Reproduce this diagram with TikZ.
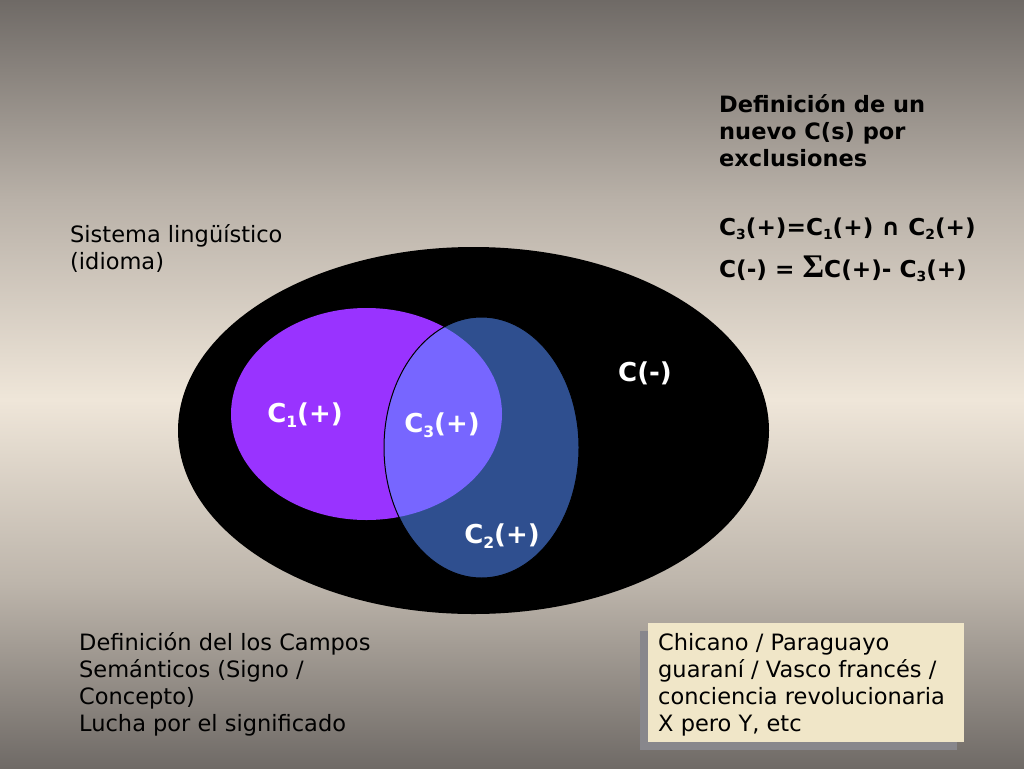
\documentclass[tikz,border=0pt]{standalone}
\usepackage{fontspec}
\setmainfont{DejaVu Sans}
\newfontfamily\sigmafont{Liberation Serif}
\definecolor{bgtop}{HTML}{6F6A66}
\definecolor{bgup}{HTML}{B9B1A8}
\definecolor{bglow}{HTML}{BDB5AB}
\definecolor{bgmid}{HTML}{EFE6D9}
\definecolor{cpurple}{HTML}{9933FF}
\definecolor{cblue}{HTML}{2F4F8F}
\definecolor{cover}{HTML}{7766FF}
\definecolor{boxcream}{HTML}{F0E6C8}
\definecolor{boxshadow}{HTML}{88878C}
\pgfdeclareverticalshading{bgshade}{100bp}{color(0bp)=(bgtop); color(25bp)=(bgtop); color(37bp)=(bglow); color(49bp)=(bgmid); color(62bp)=(bgup); color(75bp)=(bgtop); color(100bp)=(bgtop)}
\newcommand\sbs[1]{\raisebox{-0.2em}{\scalebox{0.6}{#1}}}
\begin{document}
\begin{tikzpicture}[x=1pt,y=-1pt,
  txt/.style={anchor=base west, inner sep=0pt, align=left, text=black, font=\fontsize{22.5}{27}\selectfont},
  btxt/.style={txt, font=\fontsize{22.5}{27}\selectfont\bfseries},
  eqtxt/.style={txt, font=\fontsize{23.2}{27}\selectfont\bfseries},
  lbl/.style={inner sep=0pt, text=white, font=\fontsize{26}{30}\selectfont\bfseries}]
\useasboundingbox (0,0) rectangle (1024,768);
\shade[shading=bgshade] (0,0) rectangle (1024,768);
% Venn diagram
\fill[black] (473.5,430.5) ellipse [x radius=295.5, y radius=183.5];
\fill[cpurple] (366.5,414) ellipse [x radius=135.5, y radius=106];
\fill[cblue] (481.5,447.5) ellipse [x radius=97.5, y radius=130.5];
\begin{scope}
  \clip (366.5,414) ellipse [x radius=135.5, y radius=106];
  \fill[cover] (481.5,447.5) ellipse [x radius=97.5, y radius=130.5];
\end{scope}
\draw[black, line width=1pt] (481.5,447.5) ellipse [x radius=97.5, y radius=130.5];
\node[lbl] (c1) at (305,415) {C\sbs{1}(+)};
\node[lbl] (c3) at (442,425) {C\sbs{3}(+)};
\node[lbl] (c2) at (502,536) {C\sbs{2}(+)};
\node[lbl] (cm) at (645,373) {C(-)};
% texts
\node[txt] (sis) at (70,269) {Sistema lingüístico\\(idioma)};
\node[btxt] (def) at (719,166) {Definición de un\\nuevo C(s) por\\exclusiones};
\node[eqtxt] (eq1) at (719,235) {C\sbs{3}(+)=C\sbs{1}(+) ∩ C\sbs{2}(+)};
\node[eqtxt] (eq2) at (719,277) {C(-) = {\sigmafont\fontsize{33}{33}\selectfont\bfseries Σ}C(+)- C\sbs{3}(+)};
\node[txt] (campos) at (79,731) {Definición del los Campos\\Semánticos (Signo /\\Concepto)\\Lucha por el significado};
% box
\fill[boxshadow] (640,631) rectangle (957,750);
\fill[boxcream] (648,623) rectangle (964,742);
\node[txt] (ej) at (658,731) {Chicano / Paraguayo\\guaraní / Vasco francés /\\conciencia revolucionaria\\X pero Y, etc};
\end{tikzpicture}
\end{document}
